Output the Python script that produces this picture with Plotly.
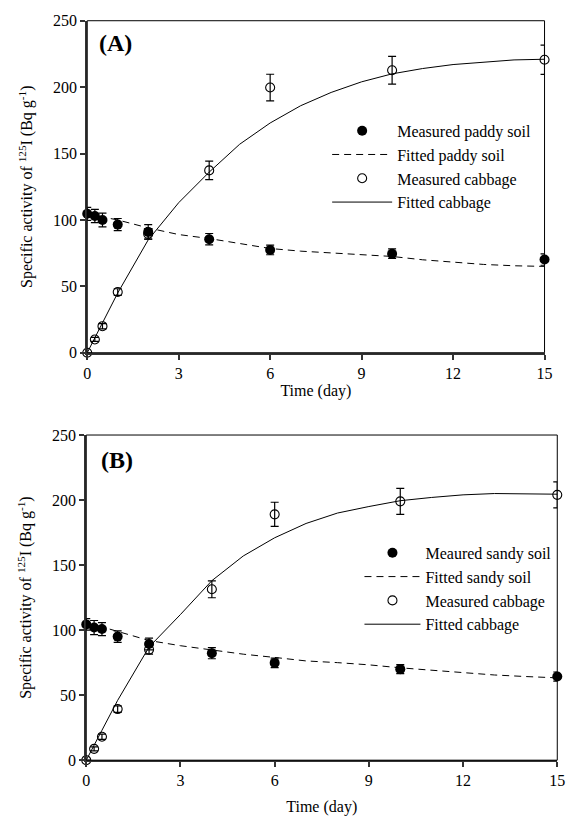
import plotly.graph_objects as go

# ---------------- data ----------------
t_meas = [0, 0.25, 0.5, 1, 2, 4, 6, 10, 15]
t_fit = [0, 0.25, 0.5, 1, 2, 3, 4, 5, 6, 7, 8, 9, 10, 11, 12, 13, 14, 15]

# Panel A
paddy_meas = [104.6, 103, 100, 96.5, 91, 85.5, 77.4, 74.6, 70.2]
paddy_err = [4.9, 5, 5.2, 4.6, 5.5, 4.3, 3.6, 3.6, 4.3]
paddy_fit = [104.5, 103.5, 102.5, 100, 94, 89, 86, 82, 78.5, 76.5, 75, 74, 72.5, 70, 68, 66.5, 65.5, 65]
cabA_meas = [0, 10, 20, 45.7, 89.5, 137.3, 199.7, 212.7, 220.6]
cabA_err = [0, 1.5, 2, 2.5, 4, 7, 10, 10.5, 11]
cabA_fit = [0, 11, 23, 45, 85, 113, 136, 157, 173, 186, 196, 204, 210, 214, 217, 219, 220.5, 221]

# Panel B
sandy_meas = [104.4, 102, 100.8, 95, 89.3, 82.3, 74.8, 70, 64.3]
sandy_err = [4.4, 5.4, 5, 4.4, 4.5, 4.3, 3.6, 3.5, 3.5]
sandy_fit = [104.5, 103.5, 102.5, 99, 92, 88, 84.5, 81.5, 79, 76.3, 75, 73.3, 71, 69, 67, 65.5, 64.3, 63.3]
cabB_meas = [0, 8.7, 18, 39.3, 85, 131.4, 189, 199, 204]
cabB_err = [0, 1.5, 2, 2.5, 3.5, 6.5, 9.3, 10, 10]
cabB_fit = [0, 12, 23, 46, 87, 112, 138, 157, 171, 182, 190, 195, 199.5, 202, 204, 205, 205, 204.5]

x_ticks = [0, 3, 6, 9, 12, 15]
y_ticks = [0, 50, 100, 150, 200, 250]

FONT = "Liberation Serif, Times New Roman, serif"
W, H = 578, 825

fig = go.Figure()

def add_panel(xa, ya, legend, soil_name, fit_soil_name, soil_meas, soil_err, soil_fit,
              cab_meas, cab_err, cab_fit):
    common = dict(xaxis=xa, yaxis=ya, legend=legend, cliponaxis=False)
    fig.add_trace(go.Scatter(x=t_meas, y=soil_meas, mode="markers", name=soil_name,
                             marker=dict(symbol="circle", size=10, color="black"),
                             error_y=dict(type="data", array=soil_err, color="black",
                                          thickness=1.2, width=4), **common))
    fig.add_trace(go.Scatter(x=t_fit, y=soil_fit, mode="lines", name=fit_soil_name,
                             line=dict(color="black", width=1, dash="7px,5px"), **common))
    fig.add_trace(go.Scatter(x=t_meas, y=cab_meas, mode="markers", name="Measured cabbage",
                             marker=dict(symbol="circle-open", size=9, color="black",
                                         line=dict(width=1.1, color="black")),
                             error_y=dict(type="data", array=cab_err, color="black",
                                          thickness=1.2, width=4), **common))
    fig.add_trace(go.Scatter(x=t_fit, y=cab_fit, mode="lines", name="Fitted cabbage",
                             line=dict(color="black", width=1), **common))

add_panel("x", "y", "legend", "Measured paddy soil", "Fitted paddy soil",
          paddy_meas, paddy_err, paddy_fit, cabA_meas, cabA_err, cabA_fit)
add_panel("x2", "y2", "legend2", "Meaured sandy soil", "Fitted sandy soil",
          sandy_meas, sandy_err, sandy_fit, cabB_meas, cabB_err, cabB_fit)

def px_x(p):
    return p / W

def px_y(p):
    return 1 - p / H

ytitle = "Specific activity of <sup>125</sup>I (Bq g<sup>-1</sup>)"

axis_common = dict(showline=True, linewidth=2, linecolor="#333333", ticks="outside",
                   ticklen=5, tickwidth=1.5, tickcolor="#333333", showgrid=False,
                   zeroline=False, tickfont=dict(family=FONT, size=16, color="black"),
                   title_font=dict(family=FONT, size=16, color="black"))

fig.update_layout(
    xaxis=dict(domain=[px_x(85), px_x(552)], range=[0, 15], tickvals=x_ticks, anchor="y",
               title=dict(text="Time (day)", standoff=4), **axis_common),
    yaxis=dict(domain=[px_y(352), px_y(13)], range=[0, 250], tickvals=y_ticks, anchor="x",
               title=dict(text=ytitle, standoff=16), **axis_common),
    xaxis2=dict(domain=[px_x(84), px_x(565)], range=[0, 15], tickvals=x_ticks, anchor="y2",
                title=dict(text="Time (day)", standoff=12), **axis_common),
    yaxis2=dict(domain=[px_y(768), px_y(436)], range=[0, 250], tickvals=y_ticks, anchor="x2",
                title=dict(text=ytitle, standoff=16), **axis_common),
    legend=dict(x=px_x(330), y=px_y(108), xanchor="left", yanchor="top", itemwidth=60,
                bgcolor="rgba(0,0,0,0)", font=dict(family=FONT, size=16, color="black")),
    legend2=dict(x=px_x(363), y=px_y(539), xanchor="left", yanchor="top", itemwidth=56,
                 bgcolor="rgba(0,0,0,0)", font=dict(family=FONT, size=16, color="black")),
    width=W, height=H, margin=dict(l=0, r=0, t=0, b=0),
    paper_bgcolor="white", plot_bgcolor="white", showlegend=True,
    font=dict(family=FONT, size=16, color="black"),
)

# thin frame on top/right
for xr, yr in [("x domain", "y domain"), ("x2 domain", "y2 domain")]:
    fig.add_shape(type="rect", xref=xr, yref=yr, x0=0, x1=1, y0=0, y1=1,
                  line=dict(color="black", width=1), layer="above")

# panel labels
fig.add_annotation(text="<b>(A)</b>", xref="paper", yref="paper", x=px_x(95), y=px_y(36),
                   xanchor="left", yanchor="middle", showarrow=False,
                   font=dict(family=FONT, size=24, color="black"))
fig.add_annotation(text="<b>(B)</b>", xref="paper", yref="paper", x=px_x(97), y=px_y(461),
                   xanchor="left", yanchor="middle", showarrow=False,
                   font=dict(family=FONT, size=24, color="black"))

fig.write_html("out.html")
